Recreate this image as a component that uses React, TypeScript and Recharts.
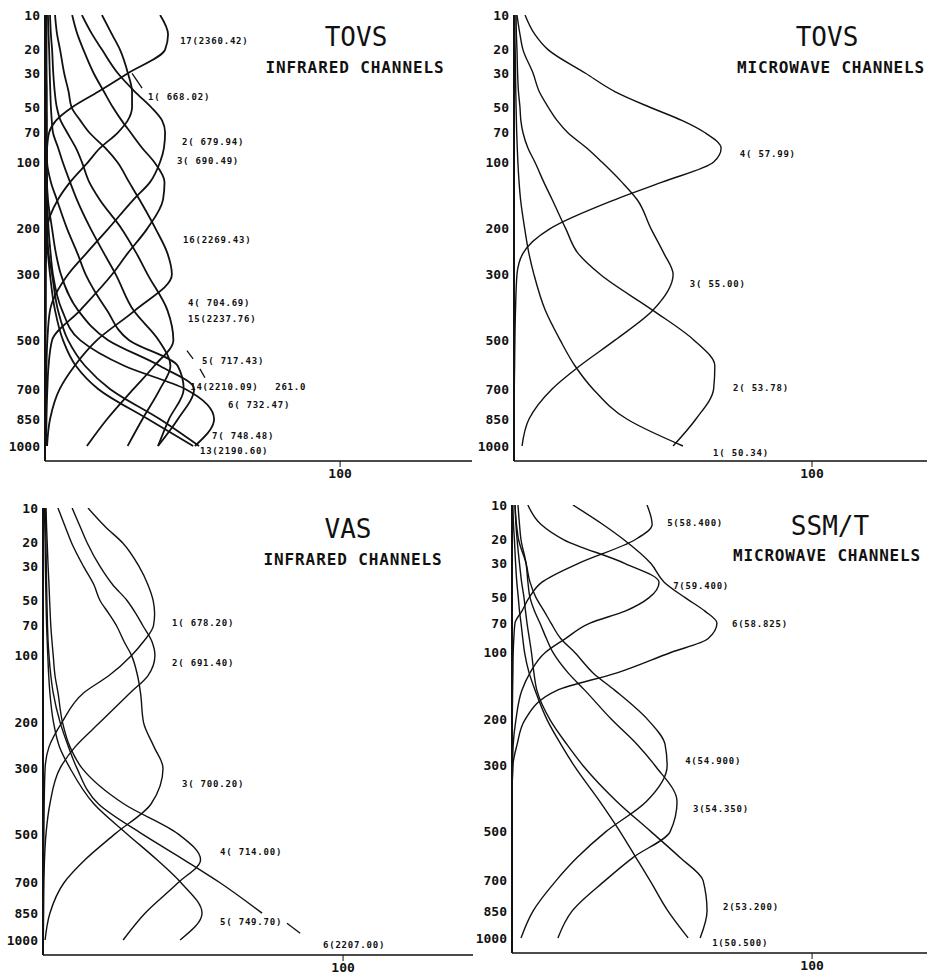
import React from "react";
import { ScatterChart, Scatter, XAxis, YAxis, ReferenceDot, ReferenceLine } from "recharts";

// pressure axis is linear in p^(R/cp)
const KAPPA = 2 / 7;
const kp = (p: number) => Math.pow(p, KAPPA);
const P_TOP = 10;
const P_BOTTOM = 1092;

const LEVELS = [10, 15, 20, 30, 40, 50, 60, 70, 85, 100, 125, 150, 200, 250, 300, 400, 500, 600, 700, 850, 1000];
const PRESSURE_TICKS = [10, 20, 30, 50, 70, 100, 200, 300, 500, 700, 850, 1000];
const X_TICKS = [100];

// TOVS infrared (HIRS) weighting functions, one value per level
const HIRS_1 = [19.3, 22.7, 25.4, 28.1, 29.5, 29.5, 28, 24.7, 18.6, 14.6, 8.5, 4.4, 0.7, 0.4, 0.3, 0.3, 0.2, 0.2, 0.2, 0.2, 0.2];
const HIRS_2 = [12.5, 16, 19.3, 24.7, 30.5, 36, 39.7, 40.7, 40.3, 39, 35.6, 30, 21.4, 14, 7.8, 1.7, 0.8, 0.5, 0.4, 0.3, 0.3];
const HIRS_3 = [9.2, 11, 13, 16.5, 20, 23, 26, 29, 33, 37, 40.5, 40, 34.6, 28, 22.7, 11.9, 2.4, 1.2, 0.8, 0.5, 0.4];
const HIRS_4 = [1.7, 2, 2.4, 2.8, 3.3, 4, 5.3, 7.5, 10.5, 12.5, 15, 18.5, 26, 31, 34.8, 41.5, 43.5, 37, 30, 21, 14.2];
const HIRS_5 = [0.5, 0.5, 0.5, 0.5, 0.6, 0.6, 0.6, 0.6, 0.6, 0.7, 2, 4, 7.5, 11, 13.8, 21, 28.5, 45, 47, 42, 38.3];
const HIRS_6 = [0.3, 0.3, 0.3, 0.4, 0.4, 0.4, 0.5, 0.5, 0.6, 0.6, 0.7, 0.8, 1.2, 1.9, 2.7, 5.8, 11.9, 27, 47.5, 57.3, 50.8];
const HIRS_7 = [0.2, 0.2, 0.2, 0.2, 0.3, 0.3, 0.3, 0.3, 0.4, 0.4, 0.5, 0.5, 0.7, 1.2, 2.4, 4.4, 7.8, 13.6, 22, 39, 52.2];
const HIRS_13 = [0.1, 0.1, 0.1, 0.1, 0.2, 0.2, 0.2, 0.2, 0.3, 0.3, 0.4, 0.4, 0.6, 1, 1.7, 3.4, 6.1, 10.5, 18, 35, 50.2];
const HIRS_14 = [0.4, 0.4, 0.4, 0.4, 0.4, 0.4, 0.4, 0.4, 0.4, 0.4, 0.6, 1, 2.4, 3.7, 5.4, 11.2, 21.4, 39, 50.5, 45, 38.3];
const HIRS_15 = [1, 1.2, 1.4, 1.6, 1.8, 2, 2.3, 2.7, 4.5, 6, 8.5, 10.8, 15.5, 20, 24, 30, 38.5, 42.5, 39, 33, 28];
const HIRS_16 = [3.4, 4.1, 5.1, 6.5, 8, 9, 12, 15, 20.5, 24.5, 28.5, 32, 37.5, 41.5, 43, 30.5, 17.6, 10, 5, 1.7, 0.7];
const HIRS_17 = [39, 41.7, 40.7, 28.1, 18, 9.2, 3.7, 1.4, 0.7, 0.5, 0.4, 0.3, 0.2, 0.1, 0.1, 0, 0, 0, 0, 0, 0];

// TOVS microwave (MSU)
const MSU_1 = [0.3, 0.3, 0.4, 0.5, 0.6, 0.7, 0.8, 0.9, 1.1, 1.3, 1.7, 2.2, 3.6, 5, 6.7, 10.5, 15.5, 20.5, 26.5, 38, 56.7];
const MSU_2 = [0.7, 0.8, 1, 1.2, 1.5, 2, 2.3, 3, 4.7, 7, 10, 12.8, 17.4, 21.5, 29, 46.6, 60.4, 67.4, 67, 61, 53.4];
const MSU_3 = [1, 2, 3, 6.4, 8.5, 11.5, 14.5, 18, 24.5, 29.5, 36.2, 41.3, 46, 50.3, 53.4, 46.6, 33.9, 22, 12.8, 5, 2.7];
const MSU_4 = [3.7, 7, 11.4, 24, 34, 45.6, 56.5, 64, 69.5, 67, 49.7, 34, 12, 3, 1, 0.5, 0.3, 0.2, 0.1, 0.1, 0.1];

// VAS infrared
const VAS_1 = [15, 21, 26.5, 32, 35, 36.7, 37.2, 36.8, 33.5, 29.5, 22, 13.5, 6.3, 2, 0.7, 0.4, 0.3, 0.2, 0.1, 0.1, 0];
const VAS_2 = [9.7, 12.5, 14.7, 19, 23.3, 28, 31, 33.3, 36.3, 37.3, 35, 29, 19, 10.7, 5.7, 2.3, 1, 0.5, 0.3, 0.2, 0.1];
const VAS_3 = [5, 7.5, 9.5, 13.5, 17, 19, 22, 24.5, 27, 29.5, 31.5, 32.5, 33.5, 37, 40, 36, 24, 14, 7, 2.3, 0.7];
const VAS_4 = [1, 1.2, 1.4, 1.7, 2, 2.2, 2.4, 2.6, 3, 3.4, 4, 5, 6.5, 9, 13, 27, 45, 52.5, 45, 34, 26.7];
const VAS_5 = [0.5, 0.6, 0.7, 0.8, 0.9, 1, 1.1, 1.2, 1.4, 1.6, 1.9, 2.3, 3.5, 5.5, 9, 17, 28, 38, 46, 53, 45.7];
const VAS_6 = [0.8, 0.9, 1, 1.1, 1.2, 1.3, 1.4, 1.5, 1.7, 2, 2.6, 3.4, 5.7, 8.5, 11.3, 18.5, 33, 47, 59, 73, null];

// SSM/T microwave
const SSMT_1 = [0.3, 0.5, 0.8, 1.2, 1.6, 2.1, 2.5, 3, 3.6, 4.2, 5.7, 7.7, 11.7, 16.3, 20.7, 29.3, 36, 41.3, 46, 52, 58.7];
const SSMT_2 = [1, 1.3, 1.7, 2.5, 3.2, 4, 4.5, 5, 5.8, 6.5, 7.3, 8.3, 12.7, 18.3, 23.7, 35, 46.3, 56, 63.7, 65, 62.7];
const SSMT_3 = [2, 2.5, 3, 4.7, 5.3, 6, 7.5, 9.3, 11.5, 13.7, 18.7, 24.3, 33.3, 41.7, 47.7, 55, 52.7, 40.3, 31, 20, 15.3];
const SSMT_4 = [1, 1.5, 2.2, 4.7, 6, 8, 10.7, 13, 16.3, 21, 27, 34.3, 45.3, 51, 51.7, 44.7, 31.3, 21.7, 14.7, 7, 3];
const SSMT_5 = [45, 46.7, 41, 22, 10, 5.7, 3.3, 1, 0.6, 0.4, 0.3, 0.2, 0.1, 0, 0, 0, 0, 0, 0, 0, 0];
const SSMT_6 = [20.3, 30.3, 37.3, 46.3, 50.7, 57.7, 64.3, 68.3, 65.3, 52.7, 35, 15, 4.3, 1.7, 0.3, 0, 0, 0, 0, 0, 0];
const SSMT_7 = [5.3, 9.7, 17.3, 37.7, 49, 45.7, 37.7, 26, 17.7, 11, 6, 3.3, 1.3, 0.4, 0.2, 0, 0, 0, 0, 0, 0];

type Note = { text: string; w: number; p: number };
type Leader = [number, number, number, number];

const HIRS_NOTES: Note[] = [
  { text: "17(2360.42)", w: 45.8, p: 17.1 },
  { text: "1( 668.02)", w: 34.9, p: 43.3 },
  { text: "2( 679.94)", w: 46.4, p: 79 },
  { text: "3( 690.49)", w: 44.7, p: 99 },
  { text: "16(2269.43)", w: 46.8, p: 221 },
  { text: "4( 704.69)", w: 48.5, p: 377 },
  { text: "15(2237.76)", w: 48.5, p: 426 },
  { text: "5( 717.43)", w: 53.2, p: 579 },
  { text: "14(2210.09)", w: 49.2, p: 690 },
  { text: "261.0", w: 78, p: 690 },
  { text: "6( 732.47)", w: 62, p: 777 },
  { text: "7( 748.48)", w: 56.6, p: 942 },
  { text: "13(2190.60)", w: 52.5, p: 1029 },
];
const MSU_NOTES: Note[] = [
  { text: "4( 57.99)", w: 75.8, p: 91 },
  { text: "3( 55.00)", w: 59, p: 324 },
  { text: "2( 53.78)", w: 73.5, p: 695 },
  { text: "1( 50.34)", w: 66.8, p: 1042 },
];
const VAS_NOTES: Note[] = [
  { text: "1( 678.20)", w: 43, p: 67.6 },
  { text: "2( 691.40)", w: 43, p: 109 },
  { text: "3( 700.20)", w: 46.3, p: 340 },
  { text: "4( 714.00)", w: 59, p: 569 },
  { text: "5( 749.70)", w: 59, p: 899 },
  { text: "6(2207.00)", w: 93.3, p: 1031 },
];
const SSMT_NOTES: Note[] = [
  { text: "5(58.400)", w: 51.7, p: 14.6 },
  { text: "7(59.400)", w: 53.7, p: 42.3 },
  { text: "6(58.825)", w: 73.3, p: 70.9 },
  { text: "4(54.900)", w: 57.7, p: 288 },
  { text: "3(54.350)", w: 60.3, p: 423 },
  { text: "2(53.200)", w: 70.3, p: 829 },
  { text: "1(50.500)", w: 66.7, p: 1031 },
];

const HIRS_LEADERS: Leader[] = [
  [29.5, 30, 32.9, 37.9],
  [48.1, 539, 50.2, 571],
  [52.5, 612, 54.2, 650],
];
const VAS_LEADERS: Leader[] = [[81.3, 904, 85.7, 961]];

const INK = "#111";
const MONO = "'DejaVu Sans Mono', 'Liberation Mono', monospace";
const tickStyle = { fill: INK, fontSize: 13, fontFamily: MONO, fontWeight: "bold" };

const toPoints = (values: (number | null)[]) =>
  LEVELS.flatMap((p, i) => (values[i] == null ? [] : [{ w: values[i] as number, k: kp(p) }]));

interface PanelProps {
  left: number;
  top: number;
  width: number;
  height: number;
  axisWidth: number;
  marginRight: number;
  xMax: number;
  curves: (number | null)[][];
  notes: Note[];
  leaders: Leader[];
  strokeWidth: number;
}

function Panel({ left, top, width, height, axisWidth, marginRight, xMax, curves, notes, leaders, strokeWidth }: PanelProps) {
  return (
    <div style={{ position: "absolute", left, top }}>
      <ScatterChart width={width} height={height} margin={{ top: 15, right: marginRight, bottom: 0, left: 0 }}>
        <XAxis
          type="number"
          dataKey="w"
          domain={[0, xMax]}
          allowDataOverflow
          ticks={X_TICKS}
          height={29}
          tickSize={6}
          tickMargin={2}
          axisLine={{ stroke: INK, strokeWidth: 1.5 }}
          tickLine={{ stroke: INK }}
          tick={tickStyle}
        />
        <YAxis
          type="number"
          dataKey="k"
          domain={[kp(P_TOP), kp(P_BOTTOM)]}
          reversed
          allowDataOverflow
          ticks={PRESSURE_TICKS.map(kp)}
          interval={0}
          tickFormatter={(v: number) => String(Math.round(Math.pow(v, 1 / KAPPA)))}
          width={axisWidth}
          tickLine={false}
          tickSize={4}
          tickMargin={1}
          axisLine={{ stroke: INK, strokeWidth: 2 }}
          tick={tickStyle}
        />
        {curves.map((values, i) => (
          <Scatter
            key={i}
            data={toPoints(values)}
            line={{ stroke: INK, strokeWidth }}
            lineType="joint"
            lineJointType="monotoneY"
            shape={() => <g />}
            isAnimationActive={false}
          />
        ))}
        {leaders.map(([w1, p1, w2, p2], i) => (
          <ReferenceLine
            key={"l" + i}
            segment={[
              { x: w1, y: kp(p1) },
              { x: w2, y: kp(p2) },
            ]}
            stroke={INK}
            strokeWidth={1.3}
          />
        ))}
        {notes.map((n) => (
          <ReferenceDot
            key={n.text}
            x={n.w}
            y={kp(n.p)}
            r={0}
            shape={(props: any) => (
              <text
                x={props.cx}
                y={props.cy}
                dy="0.35em"
                fill={INK}
                fontSize={9}
                fontFamily={MONO}
                fontWeight="bold"
                letterSpacing={0.8}
                style={{ whiteSpace: "pre" }}
              >
                {n.text}
              </text>
            )}
          />
        ))}
      </ScatterChart>
    </div>
  );
}

function Title({ x, y, text, size, spacing, bold }: { x: number; y: number; text: string; size: number; spacing: number; bold?: boolean }) {
  return (
    <div
      style={{
        position: "absolute",
        left: x,
        top: y,
        transform: "translate(-50%, -50%)",
        whiteSpace: "nowrap",
        fontFamily: MONO,
        fontSize: size,
        fontWeight: bold ? "bold" : "normal",
        letterSpacing: spacing,
        color: INK,
        lineHeight: 1,
      }}
    >
      {text}
    </div>
  );
}

export default function App() {
  return (
    <div style={{ position: "absolute", left: 0, top: 0, width: 927, height: 976, overflow: "hidden", background: "#fff" }}>
      <Panel
        left={0}
        top={0}
        width={480}
        height={490}
        axisWidth={45}
        marginRight={8}
        xMax={144.7}
        curves={[HIRS_1, HIRS_2, HIRS_3, HIRS_4, HIRS_5, HIRS_6, HIRS_7, HIRS_13, HIRS_14, HIRS_15, HIRS_16, HIRS_17]}
        notes={HIRS_NOTES}
        leaders={HIRS_LEADERS}
        strokeWidth={1.8}
      />
      <Panel
        left={470}
        top={0}
        width={457}
        height={490}
        axisWidth={44}
        marginRight={0}
        xMax={138.6}
        curves={[MSU_1, MSU_2, MSU_3, MSU_4]}
        notes={MSU_NOTES}
        leaders={[]}
        strokeWidth={1.4}
      />
      <Panel
        left={0}
        top={493}
        width={480}
        height={491}
        axisWidth={43}
        marginRight={7}
        xMax={143.3}
        curves={[VAS_1, VAS_2, VAS_3, VAS_4, VAS_5, VAS_6]}
        notes={VAS_NOTES}
        leaders={VAS_LEADERS}
        strokeWidth={1.4}
      />
      <Panel
        left={470}
        top={490}
        width={457}
        height={492}
        axisWidth={42}
        marginRight={0}
        xMax={138.3}
        curves={[SSMT_1, SSMT_2, SSMT_3, SSMT_4, SSMT_5, SSMT_6, SSMT_7]}
        notes={SSMT_NOTES}
        leaders={[]}
        strokeWidth={1.4}
      />
      <Title x={356} y={37} text="TOVS" size={26} spacing={0} />
      <Title x={355} y={68} text="INFRARED CHANNELS" size={16} spacing={0.9} bold />
      <Title x={827} y={37} text="TOVS" size={26} spacing={0} />
      <Title x={831} y={68} text="MICROWAVE CHANNELS" size={16} spacing={0.8} bold />
      <Title x={348} y={529} text="VAS" size={26} spacing={0} />
      <Title x={353} y={560} text="INFRARED CHANNELS" size={16} spacing={0.9} bold />
      <Title x={830} y={526} text="SSM/T" size={26} spacing={0} />
      <Title x={827} y={556} text="MICROWAVE CHANNELS" size={16} spacing={0.8} bold />
    </div>
  );
}
